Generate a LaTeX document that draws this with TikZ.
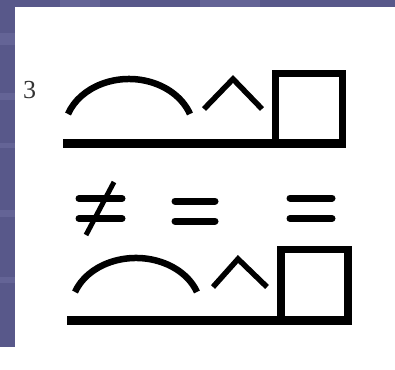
\documentclass[tikz,border=0pt]{standalone}
\usepackage{fontspec}
\setmainfont{Liberation Serif}
\definecolor{bgblue}{RGB}{88,88,138}
\definecolor{bgstripe}{RGB}{100,100,150}
\definecolor{ink}{RGB}{0,0,0}
\begin{document}
\begin{tikzpicture}[x=1pt,y=-1pt,
  sym/.style={draw=ink,line width=6.5pt},
  bar/.style={draw=ink,line width=7pt,line cap=round},
  base/.style={draw=ink,line width=9pt}]
\useasboundingbox (0,0) rectangle (395,369);
% background
\fill[white] (0,0) rectangle (395,369);
\fill[bgblue] (0,0) rectangle (395,7);
\fill[bgblue] (0,0) rectangle (15,347);
\foreach \y/\h in {33/12,93/7,143/5,210/7,277/6}{
  \fill[bgstripe] (0,\y) rectangle (15,\y+\h);
}
\fill[bgstripe] (60,0) rectangle (100,7);
\fill[bgstripe] (200,0) rectangle (260,7);
\fill[white] (15,7) rectangle (395,347);
% label
\node[font=\fontsize{26}{26}\selectfont,text=black!80] (n3) at (29.5,90) {3};
% top row
\draw[sym] (68,114) arc[start angle=200,end angle=340,x radius=64.9,y radius=53.2];
\draw[line width=5.5pt,draw=ink] (204,109) -- (233,79) -- (262,109);
\draw[sym,line width=7pt] (275.5,143.5) -- (275.5,73.5) -- (342.5,73.5) -- (342.5,143.5);
\draw[base] (63,143.5) -- (346,143.5);
% middle row
\draw[bar] (79,198.5) -- (122,198.5);
\draw[bar] (79,218.5) -- (122,218.5);
\draw[draw=ink,line width=5pt] (114,182) -- (86,235);
\draw[bar] (175,201) -- (215,201);
\draw[bar] (175,221) -- (215,221);
\draw[bar] (290,198) -- (332,198);
\draw[bar] (290,218.5) -- (332,218.5);
% bottom row
\draw[sym] (75,292) arc[start angle=200,end angle=340,x radius=64.9,y radius=51.7];
\draw[line width=5.5pt,draw=ink] (213,287) -- (238,259) -- (267,287);
\draw[sym,line width=7.5pt] (281,320) -- (281,249.5) -- (348,249.5) -- (348,320);
\draw[base] (67,320) -- (351.5,320);
\end{tikzpicture}
\end{document}
